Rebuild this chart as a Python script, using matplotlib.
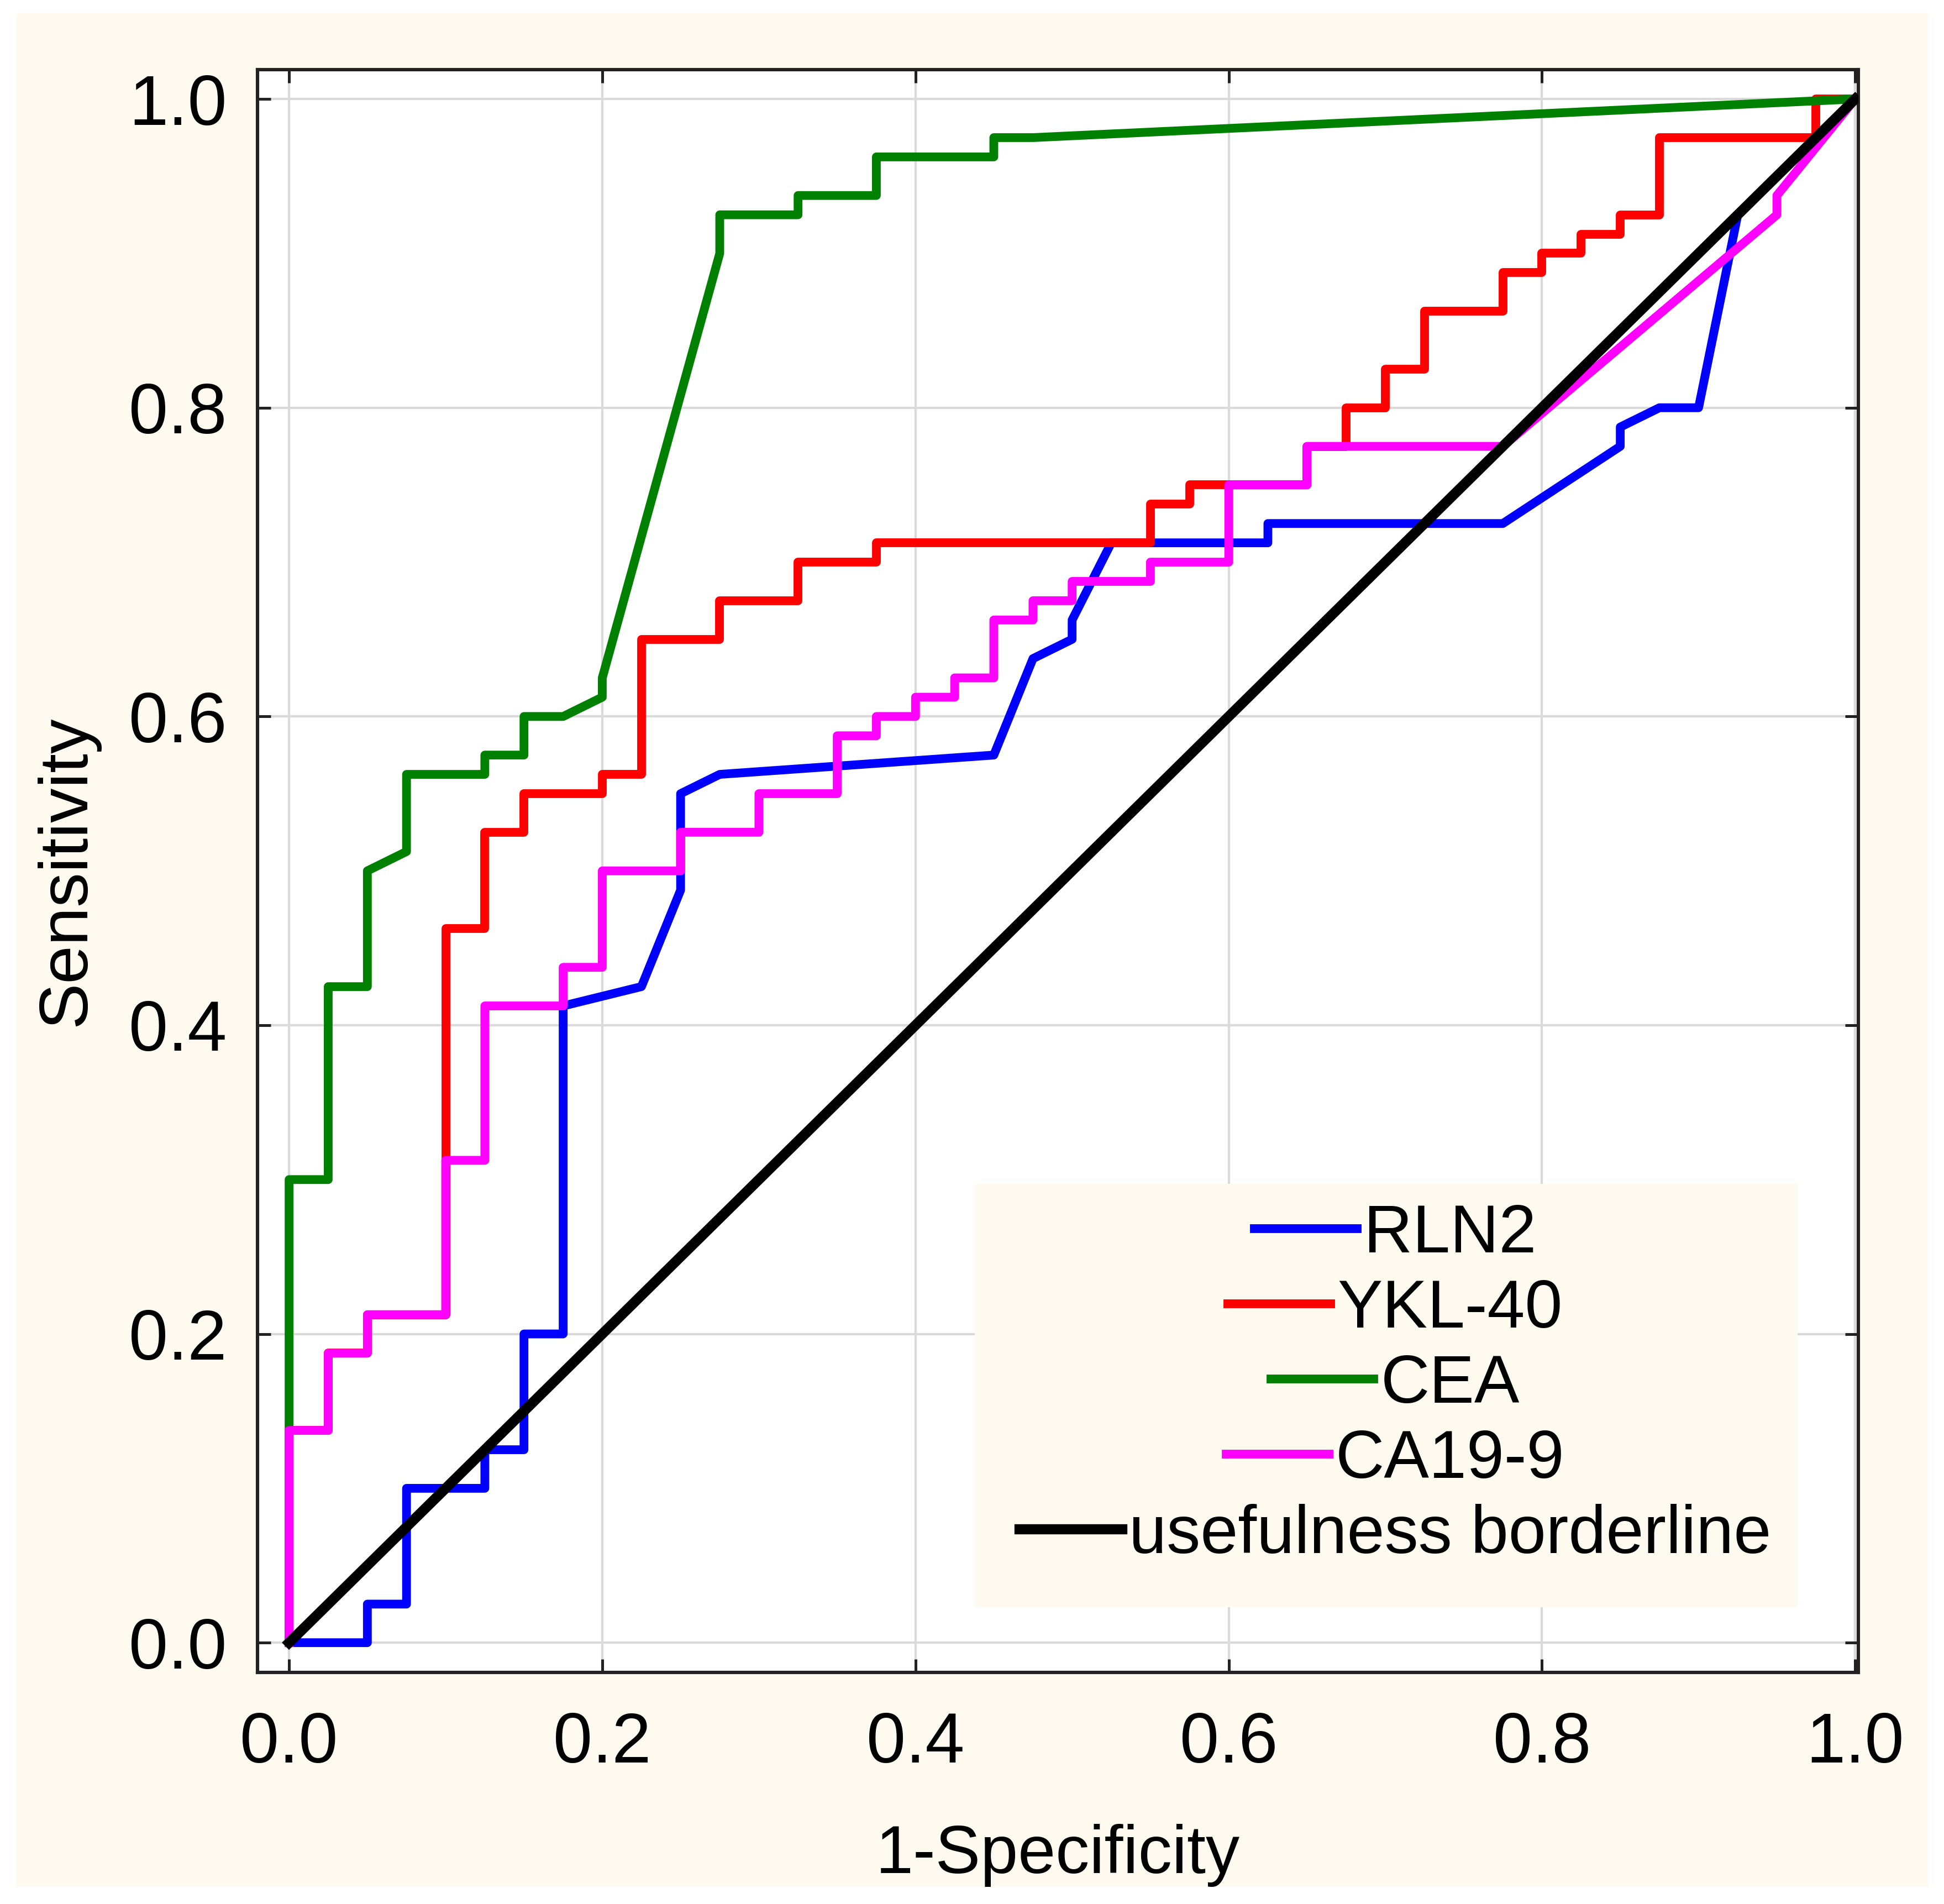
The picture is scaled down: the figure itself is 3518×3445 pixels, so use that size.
import matplotlib
matplotlib.use("Agg")
import matplotlib.pyplot as plt
from matplotlib.patches import Rectangle
from matplotlib.transforms import Bbox, TransformedBbox

plt.rcParams['font.family'] = ['Liberation Sans', 'DejaVu Sans']

# ROC curves (1-specificity, sensitivity)
rln2_x = [0, 0.05, 0.05, 0.075, 0.075, 0.125, 0.125, 0.15, 0.15, 0.175, 0.175, 0.225,
          0.25, 0.25, 0.275, 0.45, 0.475, 0.5, 0.5, 0.525, 0.625, 0.625, 0.775, 0.85,
          0.85, 0.875, 0.9, 0.925, 1.0]
rln2_y = [0, 0, 0.025, 0.025, 0.1, 0.1, 0.125, 0.125, 0.2, 0.2, 0.4125, 0.425,
          0.4875, 0.55, 0.5625, 0.575, 0.6375, 0.65, 0.6625, 0.7125, 0.7125, 0.725, 0.725, 0.775,
          0.7875, 0.8, 0.8, 0.925, 1.0]

ykl40_x = [0, 0, 0.025, 0.025, 0.05, 0.05, 0.1, 0.1, 0.125, 0.125, 0.15, 0.15, 0.2, 0.2,
           0.225, 0.225, 0.275, 0.275, 0.325, 0.325, 0.375, 0.375, 0.55, 0.55, 0.575, 0.575,
           0.65, 0.65, 0.675, 0.675, 0.7, 0.7, 0.725, 0.725, 0.775, 0.775, 0.8, 0.8,
           0.825, 0.825, 0.85, 0.85, 0.875, 0.875, 0.975, 0.975, 1.0]
ykl40_y = [0, 0.1375, 0.1375, 0.1875, 0.1875, 0.2125, 0.2125, 0.4625, 0.4625, 0.525, 0.525, 0.55, 0.55, 0.5625,
           0.5625, 0.65, 0.65, 0.675, 0.675, 0.7, 0.7, 0.7125, 0.7125, 0.7375, 0.7375, 0.75,
           0.75, 0.775, 0.775, 0.8, 0.8, 0.825, 0.825, 0.8625, 0.8625, 0.8875, 0.8875, 0.9,
           0.9, 0.9125, 0.9125, 0.925, 0.925, 0.975, 0.975, 1.0, 1.0]

cea_x = [0, 0, 0.025, 0.025, 0.05, 0.05, 0.075, 0.075, 0.125, 0.125, 0.15, 0.15, 0.175,
         0.2, 0.2, 0.275, 0.275, 0.325, 0.325, 0.375, 0.375, 0.45, 0.45, 0.475, 1.0]
cea_y = [0, 0.3, 0.3, 0.425, 0.425, 0.5, 0.5125, 0.5625, 0.5625, 0.575, 0.575, 0.6, 0.6,
         0.6125, 0.625, 0.9, 0.925, 0.925, 0.9375, 0.9375, 0.9625, 0.9625, 0.975, 0.975, 1.0]

ca199_x = [0, 0, 0.025, 0.025, 0.05, 0.05, 0.1, 0.1, 0.125, 0.125, 0.175, 0.175, 0.2, 0.2,
           0.25, 0.25, 0.3, 0.3, 0.35, 0.35, 0.375, 0.375, 0.4, 0.4, 0.425, 0.425, 0.45, 0.45,
           0.475, 0.475, 0.5, 0.5, 0.55, 0.55, 0.6, 0.6, 0.65, 0.65, 0.775, 0.95, 0.95, 1.0]
ca199_y = [0, 0.1375, 0.1375, 0.1875, 0.1875, 0.2125, 0.2125, 0.3125, 0.3125, 0.4125, 0.4125, 0.4375, 0.4375, 0.5,
           0.5, 0.525, 0.525, 0.55, 0.55, 0.5875, 0.5875, 0.6, 0.6, 0.6125, 0.6125, 0.625, 0.625, 0.6625,
           0.6625, 0.675, 0.675, 0.6875, 0.6875, 0.7, 0.7, 0.75, 0.75, 0.775, 0.775, 0.925, 0.9375, 1.0]

ref_x = [0, 1]
ref_y = [0, 1]

ticks = [0.0, 0.2, 0.4, 0.6, 0.8, 1.0]
tick_labels = ["0.0", "0.2", "0.4", "0.6", "0.8", "1.0"]

cream = "#fefaef"
fs = 46

fig = plt.figure(figsize=(17.59, 17.225), dpi=200)
fig.patch.set_facecolor("white")
bg = Rectangle((0.0082, 0.0090), 0.9835, 0.9843, transform=fig.transFigure,
               facecolor=cream, edgecolor="none", zorder=-10)
fig.patches.append(bg)

ax = fig.add_axes([0.1325, 0.1216, 0.8235, 0.8418])
ax.set_facecolor("white")

lw = 5.7
ax.plot(rln2_x, rln2_y, color="#0000ff", lw=lw, label="RLN2", zorder=3)
ax.plot(ykl40_x, ykl40_y, color="#ff0000", lw=lw, label="YKL-40", zorder=3)
ax.plot(cea_x, cea_y, color="#008000", lw=lw, label="CEA", zorder=3)
ax.plot(ca199_x, ca199_y, color="#ff00ff", lw=lw, label="CA19-9", zorder=3)
ax.plot(ref_x, ref_y, color="black", lw=6.6, label="usefulness borderline", zorder=3)

ax.set_xlim(-0.0201, 1.0021)
ax.set_ylim(-0.0193, 1.019)
ax.set_xticks(ticks)
ax.set_xticklabels(tick_labels)
ax.set_yticks(ticks)
ax.set_yticklabels(tick_labels)
ax.grid(True, color="#dadada", lw=1.5)
ax.set_axisbelow(True)

ax.tick_params(direction="in", top=True, right=True, length=8.6, width=1.8,
               colors="#222222", labelcolor="black", labelsize=fs)
ax.tick_params(axis="x", pad=25)
ax.tick_params(axis="y", pad=20)
for sp in ax.spines.values():
    sp.set_linewidth(2.2)
    sp.set_color("#222222")

ax.set_xlabel("1-Specificity", fontsize=44)
ax.set_ylabel("Sensitivity", fontsize=45)
ax.xaxis.set_label_coords(0.5, -0.0945)
ax.yaxis.set_label_coords(-0.099, 0.5)
# the bottom of the label is cut by the white margin in the original
ax.xaxis.label.set_clip_box(TransformedBbox(Bbox([[0.0082, 0.0090], [0.9917, 0.9933]]),
                                            fig.transFigure))
ax.xaxis.label.set_clip_on(True)

# legend background box
ax.add_patch(Rectangle((0.448, 0.0407), 0.514, 0.264, transform=ax.transAxes,
                       facecolor=cream, edgecolor="none", zorder=1))
leg = ax.legend(loc="center", bbox_to_anchor=(0.7107, 0.1795), frameon=False,
                fontsize=44, handlelength=1.52, handletextpad=0.1,
                labelspacing=0.18, borderpad=0)
for col in leg._legend_handle_box.get_children():
    col.align = "center"
leg.set_zorder(5)

fig.savefig("out.png", dpi=200, facecolor=fig.get_facecolor())
